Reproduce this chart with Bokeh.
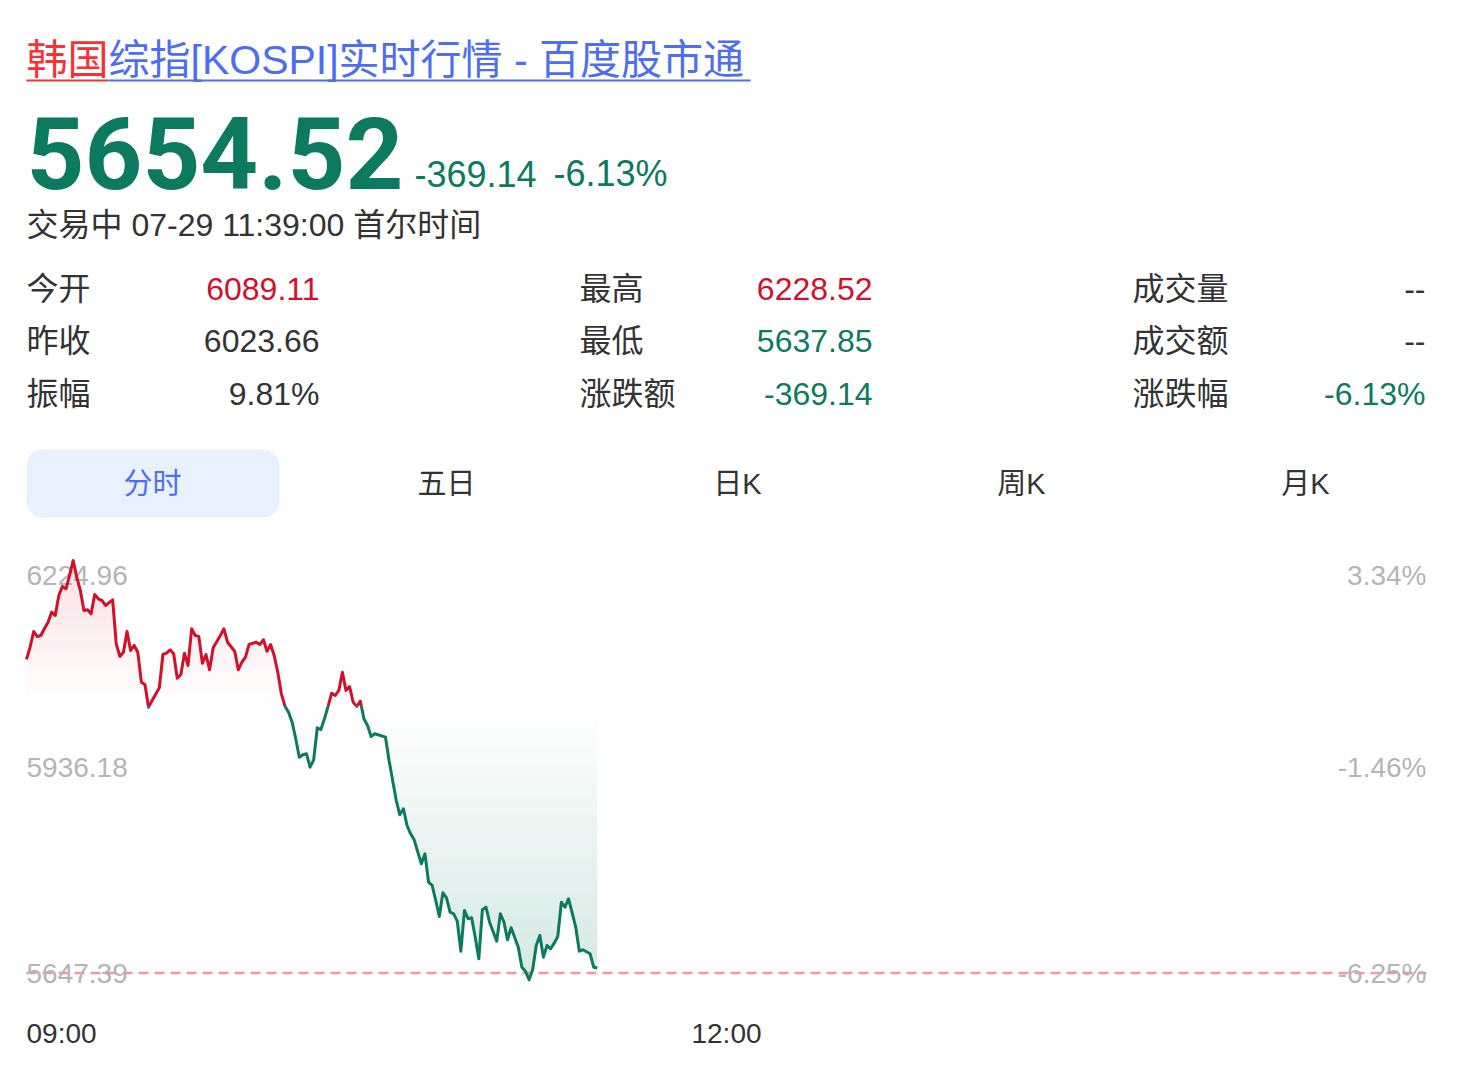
import numpy as np
from bokeh.plotting import figure
from bokeh.models import Range1d, ColumnDataSource, BoxAnnotation
from bokeh.core.properties import value
from bokeh.embed import file_html
from bokeh.resources import INLINE

# ---------------- data ----------------
minutes = [0, 1, 2, 3, 4, 5, 6, 7, 8, 9, 10, 11, 12, 13, 14, 15, 16, 17, 18, 19, 20, 21, 22, 24,
           25, 26, 27, 28, 29, 30, 31, 32, 33, 34, 35, 37, 38, 39, 40, 41, 42, 43, 44, 45, 46, 47,
           48, 49, 50, 51, 52, 54, 55, 56, 58, 59, 60, 61, 62, 64, 65, 66, 67, 68, 69, 70, 71, 72,
           73, 74, 75, 76, 77, 78, 79, 80, 81, 82, 83, 84, 85, 86, 87, 88, 89, 90, 91, 92, 93, 94,
           95, 96, 97, 100, 101, 102, 103, 104, 105, 106, 107, 108, 109, 110, 111, 112, 113, 114,
           115, 116, 117, 118, 119, 120, 121, 122, 123, 124, 125, 126, 127, 128, 129, 131, 132, 133,
           134, 135, 136, 137, 138, 139, 140, 141, 142, 143, 144, 145, 146, 147, 148, 149, 150, 151,
           152, 153, 154, 155, 157, 158, 159]
prices = [6089.11, 6106.4, 6128.5, 6121.4, 6122.8, 6132.7, 6141.6, 6155.7, 6151.0, 6179.2, 6191.9,
          6188.6, 6207.4, 6228.52, 6205.0, 6186.2, 6158.1, 6159.1, 6153.4, 6180.6, 6174.5, 6172.2,
          6165.1, 6173.1, 6111.2, 6093.3, 6099.3, 6128.5, 6101.7, 6108.8, 6099.3, 6057.1, 6053.8,
          6021.8, 6031.3, 6049.2, 6096.1, 6097.9, 6102.7, 6097.1, 6062.7, 6067.9, 6097.9, 6080.6,
          6132.3, 6122.8, 6121.4, 6083.8, 6096.1, 6074.5, 6105.5, 6122.8, 6132.3, 6113.4, 6100.7,
          6074.5, 6085.2, 6092.3, 6110.2, 6113.4, 6110.2, 6116.8, 6100.7, 6110.2, 6094.7, 6071.1,
          6040.7, 6023.3, 6014.8, 6000.7, 5977.3, 5951.4, 5954.8, 5956.2, 5937.3, 5947.7, 5992.8,
          5990.4, 6005.5, 6022.8, 6041.6, 6038.3, 6045.4, 6071.1, 6045.4, 6051.0, 6028.9, 6022.8,
          6030.3, 6005.5, 5996.1, 5980.6, 5984.4, 5979.6, 5946.8, 5918.6, 5890.4, 5870.3, 5878.7,
          5855.2, 5843.5, 5835.0, 5817.6, 5801.2, 5815.3, 5775.3, 5770.7, 5749.5, 5727.0, 5760.4,
          5753.3, 5733.1, 5730.8, 5720.4, 5678.1, 5735.5, 5723.8, 5725.2, 5697.8, 5667.4, 5736.4,
          5740.1, 5719.0, 5692.2, 5730.8, 5719.0, 5694.2, 5711.1, 5697.4, 5683.8, 5655.6, 5649.9,
          5637.85, 5651.9, 5686.2, 5700.2, 5669.7, 5686.2, 5681.5, 5689.4, 5698.8, 5747.1, 5740.1,
          5751.9, 5732.0, 5712.0, 5678.1, 5680.1, 5674.5, 5655.6, 5654.52]
prev_close = 6023.66
axis_prices = [6224.96, 5936.18, 5647.39]
axis_pcts = ["3.34%", "-1.46%", "-6.25%"]
time_ticks = [0, 195]
time_labels = ["09:00", "12:00"]
session_minutes = 390

title_red = "韩国"
title_blue = "综指[KOSPI]实时行情 - 百度股市通"
last_price = "5654.52"
change_abs = "-369.14"
change_pct = "-6.13%"
status_text = "交易中 07-29 11:39:00 首尔时间"
stat_labels = [["今开", "昨收", "振幅"], ["最高", "最低", "涨跌额"], ["成交量", "成交额", "涨跌幅"]]
stat_values = [["6089.11", "6023.66", "9.81%"], ["6228.52", "5637.85", "-369.14"], ["--", "--", "-6.13%"]]
stat_kinds = [["up", "flat", "flat"], ["up", "down", "down"], ["flat", "flat", "down"]]
tabs = ["分时", "五日", "日K", "周K", "月K"]

# ---------------- style ----------------
W, H = 1466, 1078
RED = "#d1102b"
GREEN = "#0b7a5e"
DARK = "#333333"
GRAY = "#b4b4b9"
BLUE = "#4e6ef2"
TRED = "#f73131"
LATIN = "'Liberation Sans', 'Noto Sans CJK SC'"
kind_color = {"up": RED, "down": GREEN, "flat": DARK}

# chart placement (page pixels)
CH_L, CH_R = 26, 1426
CH_T, CH_B = 562.5, 972.5
ppm = (CH_R - CH_L) / session_minutes
ppv = (CH_B - CH_T) / (axis_prices[0] - axis_prices[-1])
t_start = -CH_L / ppm
t_end = (W - CH_L) / ppm
v_top = axis_prices[0] + CH_T / ppv
v_bot = axis_prices[-1] - (H - CH_B) / ppv

p = figure(width=W, height=H, x_range=Range1d(0, W), y_range=Range1d(H, 0),
           output_backend="svg", toolbar_location=None,
           x_axis_location=None, y_axis_location=None, min_border=0,
           outline_line_color=None, background_fill_color="white",
           border_fill_color="white")
p.xgrid.visible = False
p.ygrid.visible = False
p.extra_x_ranges = {"t": Range1d(t_start, t_end)}
p.extra_y_ranges = {"v": Range1d(v_bot, v_top)}


def txt(x, y, s, size, color, align="left", baseline="middle", font=LATIN,
        style="normal", xr="default", yr="default", dy=0):
    p.text(x=[x], y=[y], text=[s], text_font_size=f"{size}px", text_color=color,
           text_align=align, text_baseline=baseline, text_font=value(font),
           text_font_style=style, x_range_name=xr, y_range_name=yr, y_offset=dy)


# ---------------- intraday chart (fills first) ----------------
pc = prev_close
xs, ys = [minutes[0]], [prices[0]]
for i in range(1, len(minutes)):
    x0, y0, x1, y1 = minutes[i - 1], prices[i - 1], minutes[i], prices[i]
    if (y0 - pc) * (y1 - pc) < 0:
        xs.append(x0 + (pc - y0) * (x1 - x0) / (y1 - y0))
        ys.append(pc)
    xs.append(x1)
    ys.append(y1)
xs = np.array(xs, dtype=float)
ys = np.array(ys, dtype=float)

nb = 60
hi, lo = max(prices), min(prices)
up_edges = np.linspace(pc, hi, nb + 1)
dn_edges = np.linspace(lo, pc, nb + 1)
up_alpha = 0.13 * (np.arange(nb) + 0.5) / nb
dn_alpha = 0.17 * (1 - (np.arange(nb) + 0.5) / nb)
grad = ColumnDataSource(dict(
    left=[float(minutes[0])] * (2 * nb), right=[float(minutes[-1])] * (2 * nb),
    bottom=list(np.concatenate([up_edges[:-1], dn_edges[:-1]])),
    top=list(np.concatenate([up_edges[1:], dn_edges[1:]])),
    color=[RED] * nb + [GREEN] * nb,
    alpha=list(np.concatenate([up_alpha, dn_alpha]))))
p.quad(left="left", right="right", bottom="bottom", top="top", fill_color="color",
       fill_alpha="alpha", line_color=None, source=grad, x_range_name="t", y_range_name="v")
# white masks (slightly oversized so no anti-aliased seams remain)
dt = 2.0 / ppm
dv = 3.0 / ppv
mx = np.concatenate([[xs[0] - dt], xs, [xs[-1] + dt]])
my = np.concatenate([[ys[0]], ys, [ys[-1]]])
p.varea(x=list(mx), y1=list(np.maximum(my, pc)), y2=[hi + dv] * len(mx), fill_color="white",
        x_range_name="t", y_range_name="v")
p.varea(x=list(mx), y1=[lo - dv] * len(mx), y2=list(np.minimum(my, pc)), fill_color="white",
        x_range_name="t", y_range_name="v")

# ---------------- header ----------------
txt(26, 59, title_red, 41, TRED)
txt(26 + 2 * 41, 59, title_blue, 41, BLUE)
p.segment(x0=[26, 108], x1=[108, 750], y0=[80, 80], y1=[80, 80],
          line_color=[TRED, BLUE], line_width=2)

txt(26, 152, last_price, 101, GREEN, font="Roboto", style="bold")
txt(414, 173, change_abs, 36, GREEN)
txt(553, 173, change_pct, 36, GREEN)
txt(26, 224, status_text, 32, DARK)

col_lab_x = [26, 579, 1132]
col_val_x = [319, 872, 1425]
row_y = [288, 340, 393]
for c in range(3):
    for r in range(3):
        txt(col_lab_x[c], row_y[r], stat_labels[c][r], 32, DARK)
        txt(col_val_x[c], row_y[r], stat_values[c][r], 32, kind_color[stat_kinds[c][r]], align="right")

tab_box = BoxAnnotation(left=26, right=279, top=449, bottom=517, fill_color="#e8f1fe",
                        fill_alpha=1.0, line_color=None, border_radius=16, level="underlay")
p.add_layout(tab_box)
tab_x = [152, 446, 737, 1021, 1305]
for i, t in enumerate(tabs):
    txt(tab_x[i], 483, t, 29, BLUE if i == 0 else DARK, align="center")

# ---------------- chart lines and labels ----------------
p.line(x=[0, session_minutes], y=[axis_prices[-1]] * 2, line_color="#ef9a9d", line_width=2.5,
       line_dash="10 6", x_range_name="t", y_range_name="v")

label_dy = [12, 0, 0]
for i in range(3):
    txt(0, axis_prices[i], f"{axis_prices[i]:.2f}", 28, GRAY, xr="t", yr="v", dy=label_dy[i])
    txt(session_minutes, axis_prices[i], axis_pcts[i], 28, GRAY, align="right",
        xr="t", yr="v", dy=label_dy[i])
for i in range(2):
    txt(time_ticks[i], 1033, time_labels[i], 28, DARK, align="left" if i == 0 else "center", xr="t")

seg_x, seg_y, seg_c = [], [], []
cur_x, cur_y, cur_side = [xs[0]], [ys[0]], None
for i in range(1, len(xs)):
    mid = (ys[i - 1] + ys[i]) / 2
    side = "up" if mid >= pc else "down"
    if cur_side is None:
        cur_side = side
    if side != cur_side:
        seg_x.append(cur_x); seg_y.append(cur_y); seg_c.append(RED if cur_side == "up" else GREEN)
        cur_x, cur_y, cur_side = [xs[i - 1]], [ys[i - 1]], side
    cur_x.append(xs[i]); cur_y.append(ys[i])
seg_x.append(cur_x); seg_y.append(cur_y); seg_c.append(RED if cur_side == "up" else GREEN)
seg_x = [[float(v) for v in s] for s in seg_x]
seg_y = [[float(v) for v in s] for s in seg_y]
p.multi_line(xs=seg_x, ys=seg_y, line_color=seg_c, line_width=3, line_join="round",
             x_range_name="t", y_range_name="v")

open("out.html", "w").write(file_html(p, INLINE))
